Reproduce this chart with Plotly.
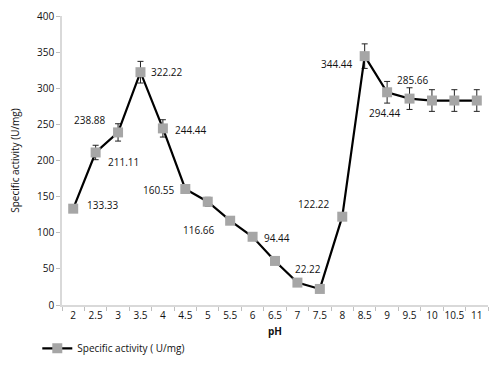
import plotly.graph_objects as go

ph_labels = ["2", "2.5", "3", "3.5", "4", "4.5", "5", "5.5", "6", "6.5", "7", "7.5",
             "8", "8.5", "9", "9.5", "10", "10.5", "11"]
activity = [133.33, 211.11, 238.88, 322.22, 244.44, 160.55, 143.0, 116.66, 94.44, 61.0,
            31.0, 22.22, 122.22, 344.44, 294.44, 285.66, 283.0, 283.0, 283.0]
error = [4, 10, 12, 15, 12, 5, 6, 3, 2, 2, 2, 2, 3, 17, 15, 15, 15, 15, 15]
labelled = ["133.33", "211.11", "238.88", "322.22", "244.44", "160.55", None, "116.66", "94.44",
            None, None, "22.22", "122.22", "344.44", "294.44", "285.66", None, None, None]
# label offsets in pixels (dx, dy-up)
offsets = [(29, 4), (28, -10), (-29, 12), (26, 0), (28, -2), (-27, -1), None, (-32, -9), (24, -1),
           None, None, (-12, 20), (-29, 13), (-28, -8), (-3, -21), (3, 19), None, None, None]

FONT = "Open Sans"
fig = go.Figure()
fig.add_trace(go.Scatter(
    x=ph_labels, y=activity, mode="lines+markers",
    name="Specific activity ( U/mg)",
    line=dict(color="black", width=2.2),
    marker=dict(symbol="square", size=10, color="#a6a6a6"),
    error_y=dict(type="data", array=error, visible=True, color="#222222", thickness=1, width=3),
))

for i, (y, t, off) in enumerate(zip(activity, labelled, offsets)):
    if t is None:
        continue
    fig.add_annotation(x=i, y=y, text=t, showarrow=False, xshift=off[0], yshift=off[1],
                       font=dict(family=FONT, size=10, color="#111111"))

fig.update_layout(
    width=500, height=366,
    margin=dict(l=54, r=20, t=8, b=69, autoexpand=False),
    paper_bgcolor="white", plot_bgcolor="white",
    font=dict(family=FONT, size=10, color="#111111"),
    showlegend=True,
    legend=dict(orientation="h", x=-0.058, xanchor="left", y=-0.15, yanchor="middle",
                font=dict(family=FONT, size=10), itemwidth=30, bgcolor="rgba(0,0,0,0)"),
    xaxis=dict(type="category", range=[-0.5, 18.5], tickson="boundaries", tickangle=0,
               ticks="outside", ticklen=4, tickcolor="#bfbfbf", automargin=False,
               showline=True, linecolor="#d9d9d9", linewidth=1.5, showgrid=False,
               zeroline=False, tickfont=dict(size=10),
               title=dict(text="<b>pH</b>", font=dict(size=10), standoff=7)),
    yaxis=dict(range=[0, 400], dtick=50, ticks="outside", ticklen=4, tickcolor="#bfbfbf",
               showline=True, linecolor="#d9d9d9", linewidth=1.5, showgrid=False,
               zeroline=False, tickfont=dict(size=10), automargin=False,
               title=dict(text="Specific activity (U/mg)", font=dict(size=10), standoff=21)),
)

fig.write_html("out.html")
